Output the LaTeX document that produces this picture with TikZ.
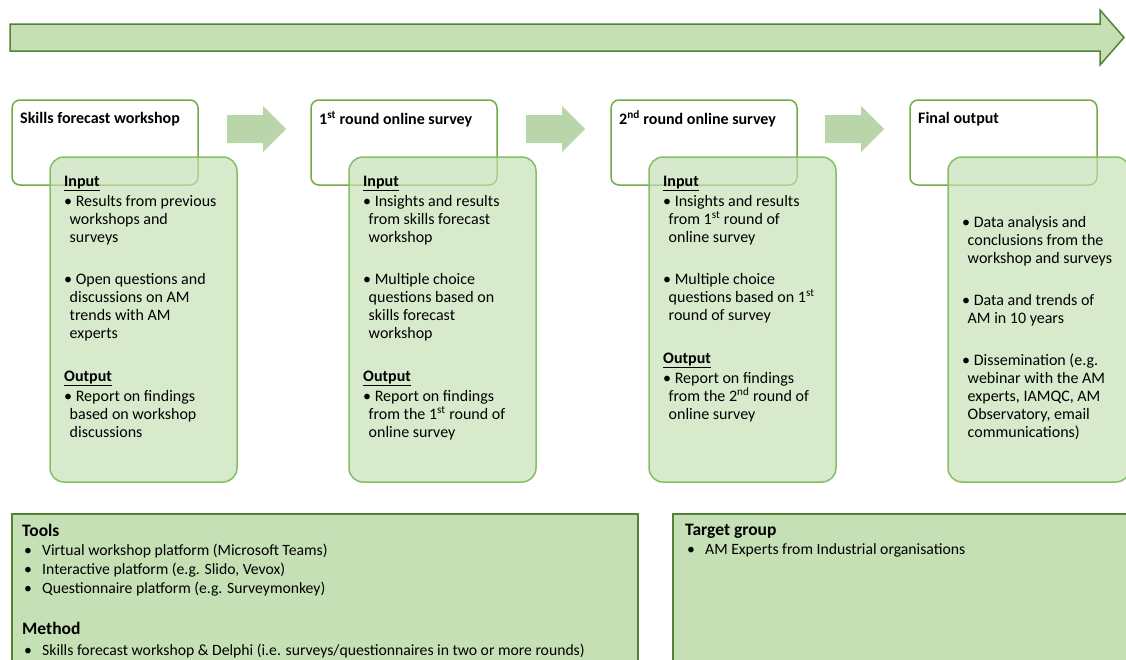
\documentclass[tikz,border=0pt]{standalone}
\usepackage{fontspec}
\setmainfont{Carlito}
\usepackage{tikz}
\usepackage{xcolor}
\definecolor{BarGreen}{HTML}{C5E0B4}
\definecolor{BarEdge}{HTML}{548235}
\definecolor{BoxEdge}{HTML}{70AD47}
\definecolor{StepArrow}{HTML}{B9D5AA}
\definecolor{NoteEdge}{HTML}{86BE64}
\newcommand{\hd}[1]{\textbf{\underline{#1}}}
\newcommand{\cont}{\hspace*{5.5pt}}
\newcommand{\itm}{\makebox[18pt][l]{\textbullet}}
\newcommand{\infohead}[1]{{\fontsize{17.5}{19}\selectfont\bfseries #1}}

\begin{document}
\begin{tikzpicture}[x=1pt, y=-1pt,
  titlebox/.style={draw=BoxEdge, line width=1.5pt, rounded corners=8pt, fill=white},
  notebox/.style={draw=NoteEdge, line width=1.5pt, rounded corners=14pt, fill=BarGreen, fill opacity=0.68},
  infobox/.style={draw=BarEdge, line width=2pt, fill=BarGreen},
  steptext/.style={anchor=north west, inner sep=0pt, align=left, font=\fontsize{16}{18}\selectfont},
  titletext/.style={anchor=west, inner sep=0pt, font=\fontsize{16}{18}\selectfont\bfseries},
  infotext/.style={anchor=north west, inner sep=0pt, align=left, font=\fontsize{15.7}{19}\selectfont}]
\useasboundingbox (0,0) rectangle (1126,659);

% time line
\draw[BarEdge, line width=1.5pt, fill=BarGreen] (10,24) -- (1100,24) -- (1100,10) -- (1124,37.5)
  -- (1100,65) -- (1100,51) -- (10,51) -- cycle;

% arrows between the steps
\foreach \x in {227,526,825}
  \fill[StepArrow] (\x,115) -- (\x+36,115) -- (\x+36,106) -- (\x+59,129) -- (\x+36,152)
    -- (\x+36,143) -- (\x,143) -- cycle;

% step boxes
\draw[titlebox] (12,100) rectangle (198,185);
\draw[titlebox] (311,100) rectangle (497,185);
\draw[titlebox] (611,100) rectangle (797,185);
\draw[titlebox] (910,100) rectangle (1097,185);

\node[titletext] (workshop) at (20,119) {Skills forecast workshop};
\node[titletext] (round1) at (319,119) {1\textsuperscript{st} round online survey};
\node[titletext] (round2) at (619,119) {2\textsuperscript{nd} round online survey};
\node[titletext] (final) at (918,119) {Final output};

\draw[notebox] (50,157) rectangle (237,482);
\draw[notebox] (349,157) rectangle (536,482);
\draw[notebox] (649,157) rectangle (836,482);
\draw[notebox] (948,157) rectangle (1130,482);

\node[steptext] (workshopio) at (64,176) {\hd{Input}\\[2pt]
  • Results from previous\\ \cont workshops and\\ \cont surveys\\[24pt]
  • Open questions and\\ \cont discussions on AM\\ \cont trends with AM\\ \cont experts\\[25pt]
  \hd{Output}\\[2pt]
  • Report on findings\\ \cont based on workshop\\ \cont discussions};

\node[steptext] (round1io) at (363,176) {\hd{Input}\\[2pt]
  • Insights and results\\ \cont from skills forecast\\ \cont workshop\\[24pt]
  • Multiple choice\\ \cont questions based on\\ \cont skills forecast\\ \cont workshop\\[25pt]
  \hd{Output}\\[2pt]
  • Report on findings\\ \cont from the 1\textsuperscript{st} round of\\ \cont online survey};

\node[steptext] (round2io) at (663,176) {\hd{Input}\\[2pt]
  • Insights and results\\ \cont from 1\textsuperscript{st} round of\\ \cont online survey\\[24pt]
  • Multiple choice\\ \cont questions based on 1\textsuperscript{st}\\ \cont round of survey\\[25pt]
  \hd{Output}\\[2pt]
  • Report on findings\\ \cont from the 2\textsuperscript{nd} round of\\ \cont online survey};

\node[steptext] (finalio) at (962,216) {• Data analysis and\\ \cont conclusions from the\\ \cont workshop and surveys\\[24pt]
  • Data and trends of\\ \cont AM in 10 years\\[24pt]
  • Dissemination (e.g.\\ \cont webinar with the AM\\ \cont experts, IAMQC, AM\\ \cont Observatory, email\\ \cont communications)};

% tools and target group
\draw[infobox] (12,514) rectangle (638,670);
\draw[infobox] (673,514) rectangle (1140,670);

\node[infotext] (tools) at (22,524) {\infohead{Tools}\\
  \hspace*{2pt}\itm Virtual workshop platform (Microsoft Teams)\\
  \hspace*{2pt}\itm Interactive platform (e.g. Slido, Vevox)\\
  \hspace*{2pt}\itm Questionnaire platform (e.g. Surveymonkey)\\[22pt]
  \infohead{Method}\\[2pt]
  \hspace*{2pt}\itm Skills forecast workshop \& Delphi (i.e. surveys/questionnaires in two or more rounds)};

\node[infotext] (target) at (685,524) {\infohead{Target group}\\
  \hspace*{2pt}\itm AM Experts from Industrial organisations};
\end{tikzpicture}
\end{document}
